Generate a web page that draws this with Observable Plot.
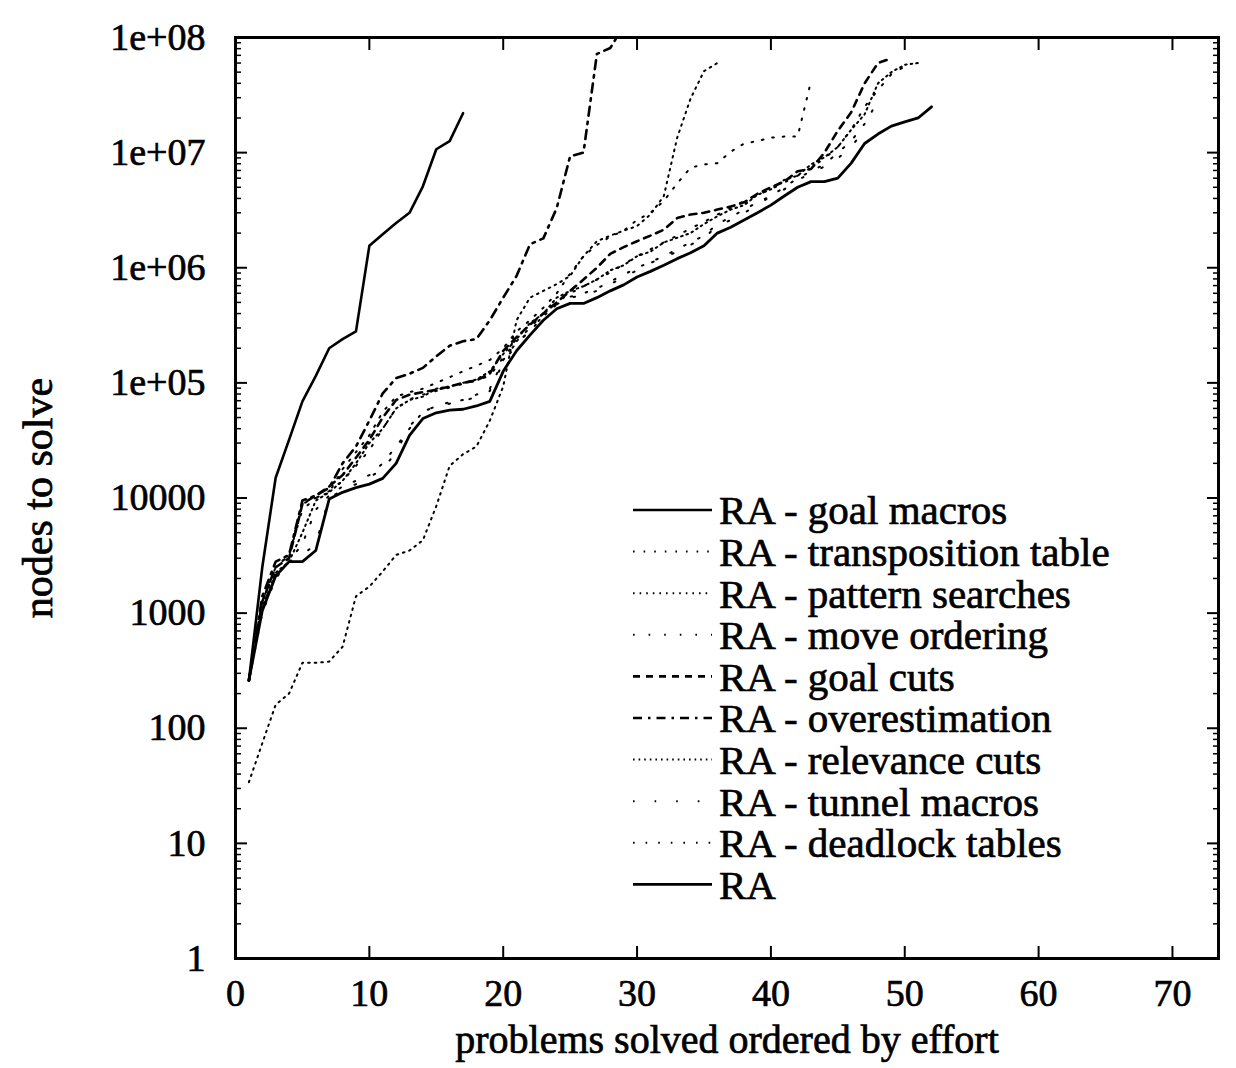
<!DOCTYPE html>
<html>
<head>
<meta charset="utf-8">
<script src="https://cdn.jsdelivr.net/npm/d3@7"></script>
<script src="https://cdn.jsdelivr.net/npm/@observablehq/plot@0.6"></script>
<style>
  html, body { margin: 0; padding: 0; background: #fff; }
  #wrap { position: relative; width: 1236px; height: 1068px; }
  #legend { position: absolute; left: 0; top: 0; pointer-events: none; }
  svg text { stroke: black; stroke-width: 0.7px; paint-order: stroke; }
</style>
</head>
<body>
<div id="wrap"></div>
<script>
// ---- Data (nodes to solve for each problem, problems ordered by effort; x = 1..n) ----
const seriesNames = [
  "RA - goal macros",
  "RA - transposition table",
  "RA - pattern searches",
  "RA - move ordering",
  "RA - goal cuts",
  "RA - overestimation",
  "RA - relevance cuts",
  "RA - tunnel macros",
  "RA - deadlock tables",
  "RA"
];

const goalMacros = [2.6e2, 2.5e3, 1.5e4, 3.2e4, 6.9e4, 1.15e5, 2.0e5, 2.4e5, 2.8e5, 1.55e6, 1.95e6, 2.45e6, 3.0e6, 5.1e6, 1.07e7, 1.26e7, 2.2e7];

const transpositionTable = [2.6e2, 1.26e3, 2.5e3, 3.2e3, 8.9e3, 1.0e4, 1.12e4, 1.78e4, 2.5e4, 3.5e4, 5.6e4, 7.6e4, 8.3e4, 8.9e4, 1.0e5, 1.12e5, 1.26e5, 1.41e5, 1.58e5, 2.0e5, 2.8e5, 3.5e5, 4.5e5, 6.0e5, 8.9e5, 1.26e6, 1.58e6, 1.86e6, 2.1e6, 2.6e6, 3.0e6, 3.8e6, 5.4e6, 7.4e6, 7.9e6, 8.1e6, 1.02e7, 1.2e7, 1.26e7, 1.35e7, 1.38e7, 1.38e7, 4.2e7];

const patternSearches = [34, 74, 1.6e2, 2.0e2, 3.7e2, 3.7e2, 3.8e2, 5.1e2, 1.4e3, 1.7e3, 2.3e3, 3.2e3, 3.5e3, 4.3e3, 8.5e3, 1.9e4, 2.4e4, 2.8e4, 4.7e4, 9.3e4, 3.5e5, 5.5e5, 6.3e5, 7.2e5, 8.5e5, 1.26e6, 1.7e6, 1.9e6, 2.1e6, 2.3e6, 2.9e6, 4.2e6, 1.35e7, 2.95e7, 5.1e7, 6.0e7];

const moveOrdering = [2.6e2, 1.0e3, 2.0e3, 2.8e3, 4.0e3, 7.9e3, 1.05e4, 1.26e4, 1.41e4, 1.58e4, 2.0e4, 2.8e4, 4.0e4, 5.6e4, 6.3e4, 6.8e4, 7.1e4, 7.9e4, 8.9e4, 1.58e5, 2.24e5, 2.8e5, 3.8e5, 4.8e5, 5.6e5, 6.0e5, 6.6e5, 7.6e5, 8.7e5, 1.0e6, 1.12e6, 1.26e6, 1.45e6, 1.66e6, 1.9e6, 2.4e6, 2.75e6, 3.2e6, 3.7e6, 4.2e6, 5.0e6, 6.0e6, 6.9e6, 7.9e6, 1.0e7, 1.26e7, 1.78e7, 2.8e7];

const goalCuts = [2.6e2, 1.26e3, 2.5e3, 3.0e3, 8.9e3, 1.05e4, 1.26e4, 1.58e4, 2.24e4, 3.2e4, 5.0e4, 7.1e4, 7.9e4, 8.3e4, 8.7e4, 9.3e4, 1.0e5, 1.05e5, 1.2e5, 1.9e5, 2.5e5, 3.2e5, 4.0e5, 5.0e5, 6.3e5, 7.9e5, 1.0e6, 1.32e6, 1.51e6, 1.7e6, 1.9e6, 2.14e6, 2.7e6, 2.9e6, 3.0e6, 3.2e6, 3.4e6, 3.7e6, 4.4e6, 5.0e6, 5.6e6, 6.9e6, 7.2e6, 1.0e7, 1.55e7, 2.24e7, 4.0e7, 6.0e7, 6.6e7];

const overestimation = [2.6e2, 1.4e3, 2.8e3, 3.2e3, 9.5e3, 1.05e4, 1.23e4, 2.0e4, 2.8e4, 4.7e4, 8.1e4, 1.1e5, 1.2e5, 1.35e5, 1.7e5, 2.1e5, 2.3e5, 2.4e5, 3.5e5, 5.5e5, 8.5e5, 1.6e6, 1.8e6, 3.3e6, 9.3e6, 1.0e7, 7.2e7, 8.1e7, 1.26e8];

const relevanceCuts = [2.6e2, 1.12e3, 2.24e3, 2.8e3, 5.0e3, 9.5e3, 1.12e4, 1.41e4, 2.0e4, 3.0e4, 4.0e4, 6.0e4, 7.1e4, 7.6e4, 8.9e4, 9.3e4, 1.0e5, 1.07e5, 1.26e5, 1.78e5, 2.4e5, 3.3e5, 4.0e5, 5.5e5, 6.3e5, 6.9e5, 7.9e5, 9.5e5, 1.05e6, 1.26e6, 1.38e6, 1.66e6, 1.82e6, 2.0e6, 2.4e6, 2.8e6, 3.2e6, 3.5e6, 4.3e6, 4.8e6, 5.8e6, 6.3e6, 7.9e6, 9.1e6, 1.12e7, 1.58e7, 2.15e7, 4.0e7, 5.0e7, 5.8e7, 6.0e7];

const tunnelMacros = [2.6e2, 1.12e3, 2.24e3, 2.8e3, 3.2e3, 4.0e3, 1.0e4, 1.17e4, 1.32e4, 1.51e4, 1.78e4, 2.5e4, 4.2e4, 5.6e4, 6.3e4, 6.6e4, 6.9e4, 7.6e4, 8.5e4, 1.51e5, 2.14e5, 2.9e5, 3.8e5, 4.8e5, 5.5e5, 5.8e5, 6.3e5, 7.2e5, 8.3e5, 9.5e5, 1.1e6, 1.23e6, 1.38e6, 1.58e6, 1.82e6, 2.3e6, 2.6e6, 3.0e6, 3.5e6, 4.2e6, 4.8e6, 5.8e6, 6.6e6, 7.6e6, 8.9e6, 1.12e7, 1.58e7];

const deadlockTables = [2.6e2, 1.26e3, 2.5e3, 3.2e3, 7.9e3, 1.0e4, 1.15e4, 1.41e4, 1.9e4, 2.6e4, 4.0e4, 6.0e4, 7.2e4, 7.9e4, 8.5e4, 9.1e4, 9.8e4, 1.05e5, 1.15e5, 1.66e5, 2.3e5, 3.0e5, 4.0e5, 5.0e5, 6.0e5, 6.9e5, 7.9e5, 9.1e5, 1.07e6, 1.26e6, 1.45e6, 1.66e6, 1.9e6, 2.2e6, 2.5e6, 2.9e6, 3.3e6, 3.8e6, 4.3e6, 4.8e6, 5.5e6, 6.3e6, 7.4e6, 8.9e6, 1.12e7, 1.58e7, 2.5e7, 3.5e7, 4.8e7, 5.6e7];

const raAll = [2.6e2, 1.05e3, 2.1e3, 2.8e3, 2.8e3, 3.5e3, 9.8e3, 1.12e4, 1.23e4, 1.32e4, 1.48e4, 2.0e4, 3.5e4, 4.9e4, 5.5e4, 5.8e4, 5.9e4, 6.3e4, 6.9e4, 1.26e5, 1.9e5, 2.6e5, 3.5e5, 4.4e5, 4.9e5, 4.9e5, 5.5e5, 6.3e5, 7.1e5, 8.3e5, 9.3e5, 1.05e6, 1.2e6, 1.35e6, 1.55e6, 2.0e6, 2.25e6, 2.6e6, 3.0e6, 3.5e6, 4.2e6, 5.0e6, 5.6e6, 5.6e6, 6.0e6, 8.1e6, 1.2e7, 1.45e7, 1.7e7, 1.85e7, 2.0e7, 2.5e7];

const seriesValues = [goalMacros, transpositionTable, patternSearches, moveOrdering, goalCuts,
                      overestimation, relevanceCuts, tunnelMacros, deadlockTables, raAll];

const xTickValues = [0, 10, 20, 30, 40, 50, 60, 70];
const yTickValues = [1, 10, 100, 1000, 10000, 1e5, 1e6, 1e7, 1e8];
const yTickLabels = ["1", "10", "100", "1000", "10000", "1e+05", "1e+06", "1e+07", "1e+08"];
const xTitle = "problems solved ordered by effort";
const yTitle = "nodes to solve";

// ---- Styles (line dash patterns as in the legend) ----
const styles = [
  {dash: null, width: 2.6},
  {dash: "1.6,9", width: 2},
  {dash: "1.6,5", width: 2},
  {dash: "1.6,14", width: 2},
  {dash: "7,6", width: 2.6},
  {dash: "9,6,2.5,6", width: 2.6},
  {dash: "1.6,4", width: 2},
  {dash: "1.6,20", width: 2},
  {dash: "1.6,11", width: 2},
  {dash: null, width: 2.8}
];

const W = 1236, H = 1068;
const mL = 235, mR = 18, mT = 37, mB = 110;
const FONT = "'Liberation Serif', 'Times New Roman', serif";

const minorTicks = [];
for (let e = 0; e < 8; e++) for (let m = 2; m <= 9; m++) minorTicks.push(m * Math.pow(10, e));

const lineMarks = seriesValues.map((vals, si) => Plot.line(
  vals.map((v, i) => ({x: i + 1, y: v})),
  {x: "x", y: "y", stroke: "black", strokeWidth: styles[si].width,
   strokeDasharray: styles[si].dash, strokeLinejoin: "round", clip: true}
));

const chart = Plot.plot({
  width: W, height: H,
  marginLeft: mL, marginRight: mR, marginTop: mT, marginBottom: mB,
  style: {fontFamily: FONT, color: "black", background: "white"},
  x: {domain: [0, 73.44], label: null},
  y: {type: "log", domain: [1, 1e8], label: null},
  marks: [
    ...lineMarks,
    // inward ticks on all sides
    Plot.axisY(yTickValues, {anchor: "left", tickSize: -12, tickFormat: () => "", strokeWidth: 2, label: null}),
    Plot.axisY(yTickValues, {anchor: "right", tickSize: -12, tickFormat: () => "", strokeWidth: 2, label: null}),
    Plot.axisY(minorTicks, {anchor: "left", tickSize: -6, tickFormat: () => "", strokeWidth: 1.5, label: null}),
    Plot.axisY(minorTicks, {anchor: "right", tickSize: -6, tickFormat: () => "", strokeWidth: 1.5, label: null}),
    Plot.axisX(xTickValues, {anchor: "bottom", tickSize: -12, tickFormat: () => "", strokeWidth: 2, label: null}),
    Plot.axisX(xTickValues, {anchor: "top", tickSize: -12, tickFormat: () => "", strokeWidth: 2, label: null}),
    // tick labels
    Plot.axisY(yTickValues, {anchor: "left", tickSize: 0, tickPadding: 30, fontSize: 38,
      tickFormat: d => yTickLabels[yTickValues.indexOf(d)], label: null}),
    Plot.axisX(xTickValues, {anchor: "bottom", tickSize: 0, tickPadding: 21, fontSize: 38,
      tickFormat: d => String(d), label: null}),
    // titles
    Plot.text([xTitle], {text: d => d, frameAnchor: "bottom", dy: 82, fontSize: 40,
      textAnchor: "middle", lineAnchor: "middle"}),
    Plot.text([yTitle], {text: d => d, frameAnchor: "left", dx: -197, rotate: -90, fontSize: 42,
      textAnchor: "middle", lineAnchor: "middle"}),
    Plot.frame({stroke: "black", strokeWidth: 3})
  ]
});

const wrap = document.getElementById("wrap");
wrap.appendChild(chart);

// ---- Legend (inside the plot area, lower right) ----
const leg = d3.select(wrap).append("svg")
  .attr("id", "legend").attr("width", W).attr("height", H);
const legX0 = 633, legX1 = 712, legTextX = 719, legY0 = 510, legDY = 41.6;
seriesNames.forEach((name, i) => {
  const y = legY0 + i * legDY;
  leg.append("line")
    .attr("x1", legX0).attr("x2", legX1).attr("y1", y).attr("y2", y)
    .attr("stroke", "black").attr("stroke-width", styles[i].width)
    .attr("stroke-dasharray", styles[i].dash);
  leg.append("text")
    .attr("x", legTextX).attr("y", y).attr("dy", "0.35em")
    .attr("font-family", FONT)
    .attr("font-size", 41).attr("fill", "black")
    .text(name);
});
</script>
</body>
</html>
